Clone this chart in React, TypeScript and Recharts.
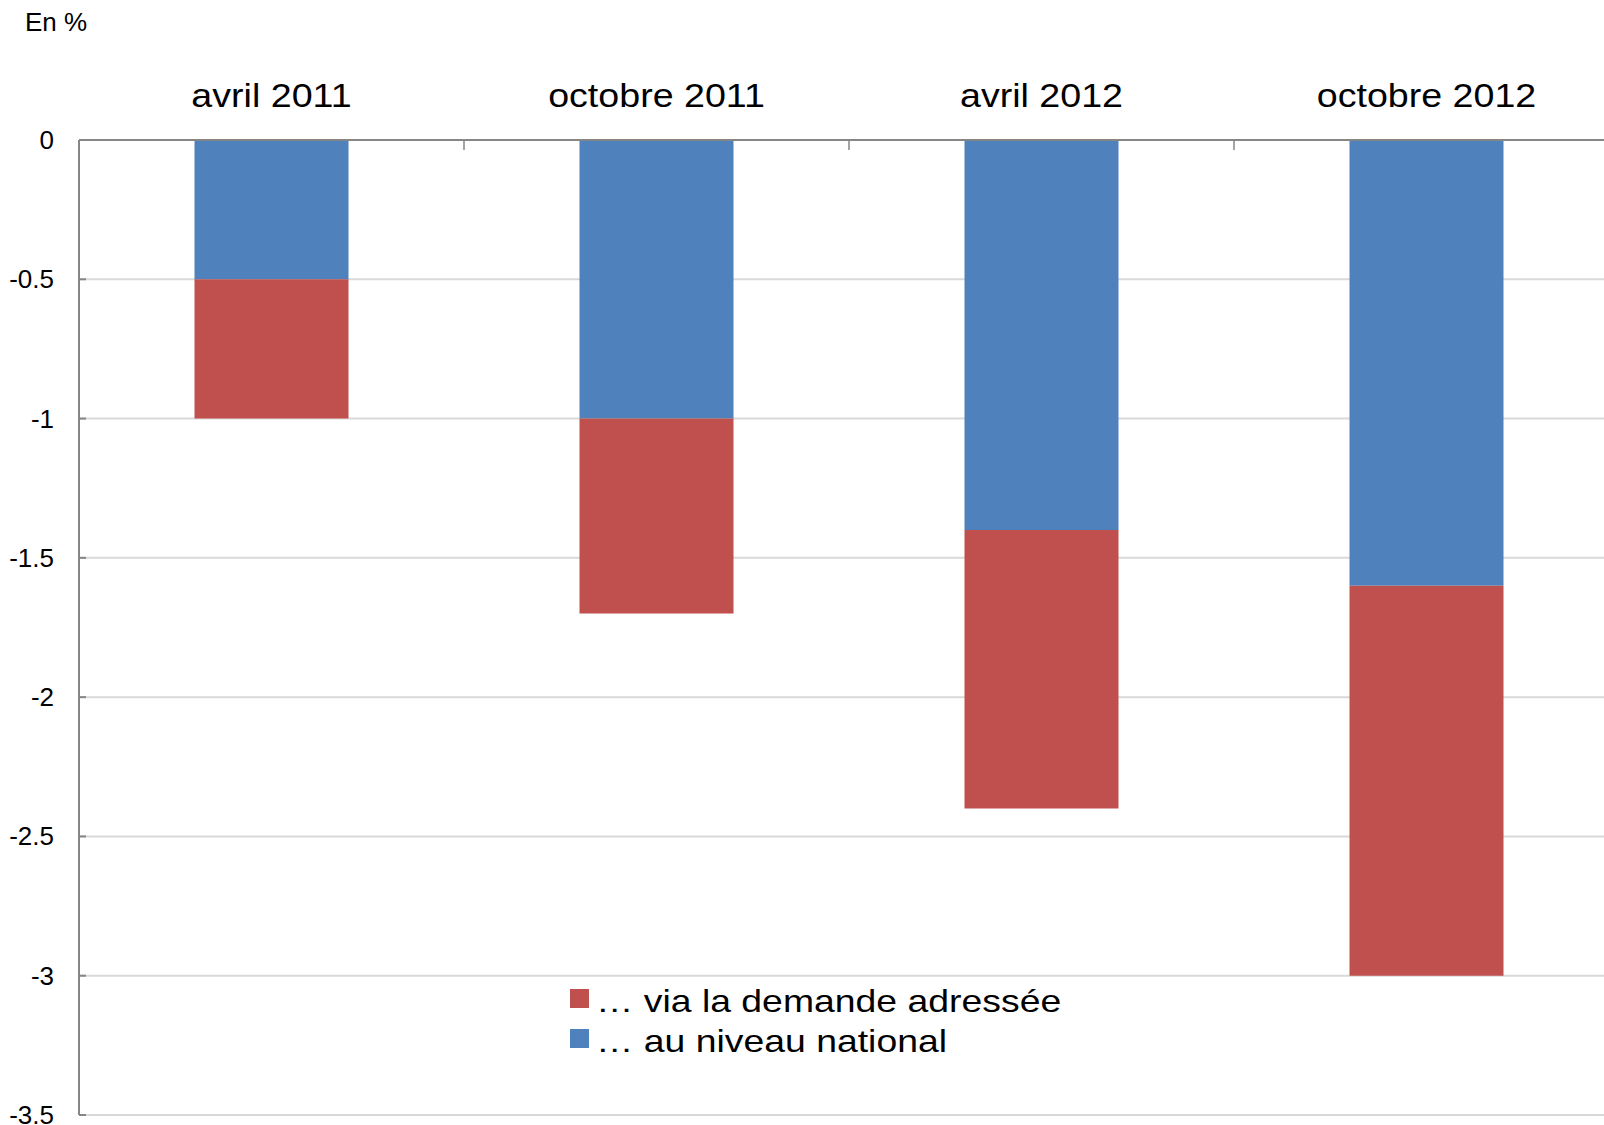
import React from 'react';
import { BarChart, Bar, XAxis, YAxis, CartesianGrid, Legend } from 'recharts';

const categories = ['avril 2011', 'octobre 2011', 'avril 2012', 'octobre 2012'];
const nationalValues = [-0.5, -1.0, -1.4, -1.6];
const demandValues = [-0.5, -0.7, -1.0, -1.4];
const yTicks = [0, -0.5, -1, -1.5, -2, -2.5, -3, -3.5];
const seriesNames = { national: '… au niveau national', demand: '… via la demande adressée' };
const unitLabel = 'En %';

const data = categories.map((c, i) => ({ cat: c, national: nationalValues[i], demand: demandValues[i] }));

const FONT = '"Liberation Sans", Arial, Helvetica, sans-serif';
const AXIS = '#868686';
const GRID = '#D9D9D9';
const BLUE = '#4F81BD';
const RED = '#C0504D';

const CHART_W = 1619;
const CHART_H = 1125;
const Y_W = 79;
const PLOT_W = CHART_W - Y_W;
const X_TICK_MARGIN = 33;
const Y_TICK_MARGIN = 25;

const XTick = (props: any) => {
  const { x, y, payload } = props;
  const bw = PLOT_W / categories.length;
  const axisY = y + X_TICK_MARGIN;
  return (
    <g>
      <g transform={`translate(${x},${y}) scale(1.14,1)`}>
        <text x={0} y={0} textAnchor="middle" fontSize={33} fontFamily={FONT} fill="#000">
          {payload.value}
        </text>
      </g>
      <line x1={x + bw / 2} x2={x + bw / 2} y1={axisY} y2={axisY + 10} stroke={AXIS} strokeWidth={1.5} />
    </g>
  );
};

const YTick = (props: any) => {
  const { x, y, payload } = props;
  const axisX = x + Y_TICK_MARGIN;
  return (
    <g>
      <text x={x} y={y} dy={9} textAnchor="end" fontSize={26} fontFamily={FONT} fill="#000">
        {String(payload.value)}
      </text>
      <line x1={axisX} x2={axisX + 7} y1={y} y2={y} stroke={AXIS} strokeWidth={2} />
    </g>
  );
};

const LegendContent = (props: any) => {
  const items = [...(props.payload || [])].reverse();
  return (
    <div style={{ fontFamily: FONT }}>
      {items.map((it: any) => (
        <div key={it.value} style={{ display: 'flex', alignItems: 'flex-start', height: 40, lineHeight: '40px' }}>
          <div style={{ width: 19, height: 19, background: it.color, marginTop: 8, marginRight: 7, flex: 'none' }} />
          <span style={{ fontSize: 30.5, color: '#000', whiteSpace: 'nowrap', display: 'inline-block', transform: 'scaleX(1.225)', transformOrigin: 'left center' }}>
            {it.value}
          </span>
        </div>
      ))}
    </div>
  );
};

export default function App() {
  return (
    <div style={{ position: 'fixed', left: 0, top: 0, width: 1604, height: 1125, overflow: 'hidden', background: '#fff' }}>
      <div style={{ position: 'absolute', left: 0, top: 9, fontFamily: FONT, fontSize: 26, lineHeight: '26px', paddingLeft: 25, color: '#000', whiteSpace: 'nowrap' }}>
        {unitLabel}
      </div>
      <BarChart
        width={CHART_W}
        height={CHART_H}
        data={data}
        margin={{ top: 80, right: 0, bottom: 10, left: 0 }}
        barCategoryGap="30%"
        style={{ position: 'absolute', left: 0, top: 0 }}
      >
        <CartesianGrid vertical={false} stroke={GRID} strokeWidth={2} />
        <XAxis
          dataKey="cat"
          orientation="top"
          height={60}
          axisLine={{ stroke: AXIS, strokeWidth: 2 }}
          tickLine={false}
          tickSize={0}
          tickMargin={X_TICK_MARGIN}
          interval={0}
          tick={<XTick />}
        />
        <YAxis
          type="number"
          domain={[-3.5, 0]}
          ticks={yTicks}
          width={Y_W}
          axisLine={{ stroke: AXIS, strokeWidth: 2 }}
          tickLine={false}
          tickSize={0}
          tickMargin={Y_TICK_MARGIN}
          interval={0}
          tick={<YTick />}
        />
        <Bar dataKey="national" name={seriesNames.national} stackId="s" fill={BLUE} isAnimationActive={false} />
        <Bar dataKey="demand" name={seriesNames.demand} stackId="s" fill={RED} isAnimationActive={false} />
        <Legend
          layout="vertical"
          align="center"
          verticalAlign="middle"
          content={<LegendContent />}
          wrapperStyle={{ position: 'absolute', left: 570, top: 981, width: 'auto' }}
        />
      </BarChart>
    </div>
  );
}
